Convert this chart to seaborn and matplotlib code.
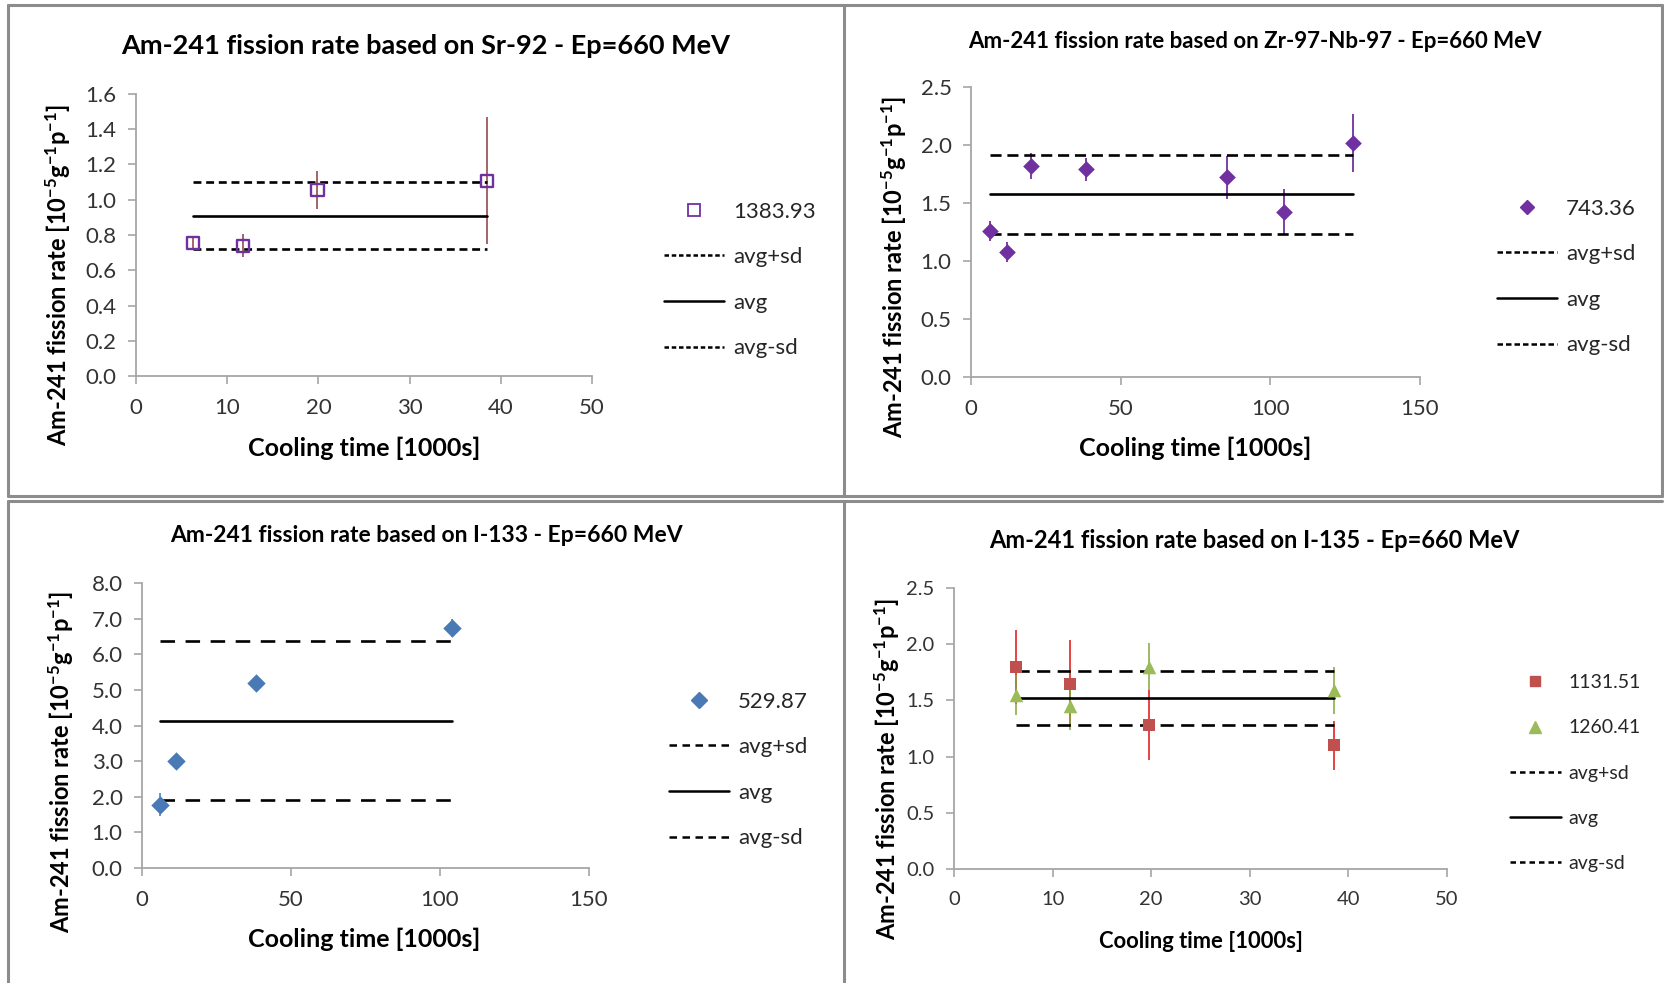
import matplotlib
matplotlib.use("Agg")
import matplotlib.pyplot as plt
import seaborn as sns
from matplotlib.lines import Line2D
from matplotlib.ticker import MultipleLocator, FormatStrFormatter

sns.set_theme(style="white")
plt.rcParams['font.family'] = ['Lato', 'DejaVu Sans']
plt.rcParams['mathtext.fontset'] = 'custom'
plt.rcParams['mathtext.rm'] = 'Lato'
plt.rcParams['mathtext.bf'] = 'Lato:bold'
plt.rcParams['mathtext.default'] = 'bf'

# Sr-92
sr92_time = [6.3, 11.7, 19.9, 38.5]
sr92_rate = [0.757, 0.739, 1.055, 1.108]
sr92_err = [0.03, 0.065, 0.11, 0.36]
sr92_avg, sr92_sd = 0.91, 0.19

# Zr-97-Nb-97
zr97_time = [6.35, 12.0, 19.96, 38.5, 85.5, 104.6, 127.5]
zr97_rate = [1.26, 1.08, 1.82, 1.79, 1.72, 1.42, 2.02]
zr97_err = [0.087, 0.086, 0.115, 0.10, 0.187, 0.20, 0.25]
zr97_avg, zr97_sd = 1.575, 0.34

# I-133
i133_time = [5.9, 11.4, 38.1, 104.0]
i133_rate = [1.78, 2.99, 5.18, 6.73]
i133_err = [0.32, 0.05, 0.05, 0.25]
i133_avg, i133_sd = 4.14, 2.23

# I-135 (two gamma lines)
i135_time = [6.3, 11.8, 19.8, 38.5]
i135_rate_1131 = [1.80, 1.65, 1.28, 1.10]
i135_err_1131 = [0.33, 0.39, 0.31, 0.22]
i135_rate_1260 = [1.55, 1.45, 1.80, 1.59]
i135_err_1260 = [0.18, 0.21, 0.21, 0.21]
i135_avg, i135_sd = 1.52, 0.24

W, H = 1665, 983
fig = plt.figure(figsize=(W / 100, H / 100), dpi=100)


def fx(x):
    return x / W


def fy(y):
    return 1 - y / H


def rect(x0, x1, y_top, y_bot):
    return [fx(x0), fy(y_bot), fx(x1) - fx(x0), fy(y_top) - fy(y_bot)]


ylab = r'Am-241 fission rate [10$^{-5}$g$^{-1}$p$^{-1}$]'
grey = '#a6a6a6'


def setup_axes(r, xmax, xstep, ymax, ystep, fs=16):
    ax = fig.add_axes(r)
    ax.set_xlim(0, xmax)
    ax.set_ylim(0, ymax)
    ax.xaxis.set_major_locator(MultipleLocator(xstep))
    ax.yaxis.set_major_locator(MultipleLocator(ystep))
    ax.yaxis.set_major_formatter(FormatStrFormatter('%.1f'))
    for s in ['top', 'right']:
        ax.spines[s].set_visible(False)
    for s in ['left', 'bottom']:
        ax.spines[s].set_color(grey)
        ax.spines[s].set_linewidth(1.3)
    ax.tick_params(axis='both', direction='out', length=6, width=1.2,
                   color=grey, labelcolor='#333333', labelsize=fs,
                   left=True, bottom=True)
    ax.tick_params(axis='y', pad=8)
    ax.tick_params(axis='x', pad=10)
    ax.set_facecolor('none')
    return ax


def avg_lines(ax, t, avg, sd, dashes):
    x = [min(t), max(t)]
    ax.plot(x, [avg + sd] * 2, color='black', lw=1.9, dashes=dashes, zorder=2)
    ax.plot(x, [avg] * 2, color='black', lw=1.9, zorder=2)
    ax.plot(x, [avg - sd] * 2, color='black', lw=1.9, dashes=dashes, zorder=2)


def line_handles(dashes):
    return [Line2D([], [], color='black', lw=1.8, dashes=dashes),
            Line2D([], [], color='black', lw=1.8),
            Line2D([], [], color='black', lw=1.8, dashes=dashes)]


def add_legend(ax, handles, labels, x, ycen, fs=16, hl=2.7, ls=1.15):
    ax.legend(handles, labels, loc='center left',
              bbox_to_anchor=(fx(x), fy(ycen)), bbox_transform=fig.transFigure,
              frameon=False, fontsize=fs, handlelength=hl, handletextpad=0.4,
              labelspacing=ls, borderpad=0, borderaxespad=0, numpoints=1)


# --- panel 1: Sr-92
ax1 = setup_axes(rect(136, 592, 94, 376), 50, 10, 1.6, 0.2)
ax1.errorbar(sr92_time, sr92_rate, yerr=sr92_err, fmt='none',
             ecolor='#8b3a3a', elinewidth=1.1, capsize=0, zorder=1)
avg_lines(ax1, sr92_time, sr92_avg, sr92_sd, (3, 1.8))
sns.scatterplot(x=sr92_time, y=sr92_rate, marker='s', s=75, ax=ax1, zorder=3)
pts = ax1.collections[-1]
pts.set_facecolor('none')
pts.set_edgecolor('#7030a0')
pts.set_linewidth(1.7)
h1 = [Line2D([], [], ls='none', marker='s', ms=8, mfc='none', mec='#7030a0', mew=1.3)]
add_legend(ax1, h1 + line_handles((1.8, 1.1)), ['1383.93', 'avg+sd', 'avg', 'avg-sd'],
           664, 280)

# --- panel 2: Zr-97-Nb-97
ax2 = setup_axes(rect(971, 1420, 87, 377), 150, 50, 2.5, 0.5)
ax2.errorbar(zr97_time, zr97_rate, yerr=zr97_err, fmt='none',
             ecolor='#7030a0', elinewidth=1.3, capsize=0, zorder=1)
avg_lines(ax2, zr97_time, zr97_avg, zr97_sd, (4.2, 2.2))
sns.scatterplot(x=zr97_time, y=zr97_rate, marker='D', s=72, color='#7030a0',
                edgecolor='#7030a0', linewidth=0, ax=ax2, zorder=3)
h2 = [Line2D([], [], ls='none', marker='D', ms=7.5, color='#7030a0')]
add_legend(ax2, h2 + line_handles((2.2, 1.2)), ['743.36', 'avg+sd', 'avg', 'avg-sd'],
           1497, 277)

# --- panel 3: I-133
ax3 = setup_axes(rect(142, 589, 583, 868), 150, 50, 8.0, 1.0)
ax3.errorbar(i133_time, i133_rate, yerr=i133_err, fmt='none',
             ecolor='#4f81bd', elinewidth=1.2, capsize=0, zorder=1)
avg_lines(ax3, i133_time, i133_avg, i133_sd, (5.5, 4))
sns.scatterplot(x=i133_time, y=i133_rate, marker='D', s=88, color='#4a7ab5',
                edgecolor='#4a7ab5', linewidth=0, ax=ax3, zorder=3)
h3 = [Line2D([], [], ls='none', marker='D', ms=8, color='#4a7ab5')]
add_legend(ax3, h3 + line_handles((3, 2.2)), ['529.87', 'avg+sd', 'avg', 'avg-sd'],
           669, 770)

# --- panel 4: I-135
ax4 = setup_axes(rect(954, 1447, 588, 869), 50, 10, 2.5, 0.5, fs=14.5)
ax4.errorbar(i135_time, i135_rate_1131, yerr=i135_err_1131, fmt='none',
             ecolor='#e01010', elinewidth=1.1, capsize=0, zorder=1)
ax4.errorbar(i135_time, i135_rate_1260, yerr=i135_err_1260, fmt='none',
             ecolor='#7fa83a', elinewidth=1.1, capsize=0, zorder=1)
avg_lines(ax4, i135_time, i135_avg, i135_sd, (5, 2.8))
sns.scatterplot(x=i135_time, y=i135_rate_1131, marker='s', s=85, color='#c0504d',
                edgecolor='#c0504d', linewidth=0, ax=ax4, zorder=3)
sns.scatterplot(x=i135_time, y=i135_rate_1260, marker='^', s=95, color='#9bbb59',
                edgecolor='#9bbb59', linewidth=0, ax=ax4, zorder=3)
h4 = [Line2D([], [], ls='none', marker='s', ms=7.5, color='#c0504d'),
      Line2D([], [], ls='none', marker='^', ms=8, color='#9bbb59')]
add_legend(ax4, h4 + line_handles((2.2, 1.6)),
           ['1131.51', '1260.41', 'avg+sd', 'avg', 'avg-sd'], 1510, 773,
           fs=14, hl=2.6, ls=1.45)

# titles and axis labels
tk = dict(ha='center', va='center', fontweight='bold', color='black')
fig.text(fx(426), fy(46), 'Am-241 fission rate based on Sr-92 - Ep=660 MeV', fontsize=19.5, **tk)
fig.text(fx(1255), fy(41), 'Am-241 fission rate based on Zr-97-Nb-97 - Ep=660 MeV', fontsize=16, **tk)
fig.text(fx(426), fy(536), 'Am-241 fission rate based on I-133 - Ep=660 MeV', fontsize=16.5, **tk)
fig.text(fx(1254), fy(540), 'Am-241 fission rate based on I-135 - Ep=660 MeV', fontsize=17, **tk)

for x, y, fs in [(364, 448, 18), (1195, 448, 18), (364, 939, 18), (1201, 941, 15.8)]:
    fig.text(fx(x), fy(y), 'Cooling time [1000s]', fontsize=fs, **tk)

for x, y in [(58, 275), (894, 267), (61, 762), (887, 769)]:
    fig.text(fx(x), fy(y), ylab, fontsize=17, rotation=90, **tk)

# chart frames
fc = '#8c8c8c'
for (x0, y0, x1, y1) in [(8, 5, 1662, 5), (8, 5, 8, 496), (8, 496, 1662, 496),
                         (844, 5, 844, 496), (1662, 5, 1662, 496),
                         (8, 501, 1662, 501), (8, 501, 8, 983), (844, 501, 844, 983)]:
    fig.add_artist(Line2D([fx(x0), fx(x1)], [fy(y0), fy(y1)], color=fc, lw=2.2,
                          transform=fig.transFigure))

fig.savefig('out.png', dpi=100, facecolor='white')
